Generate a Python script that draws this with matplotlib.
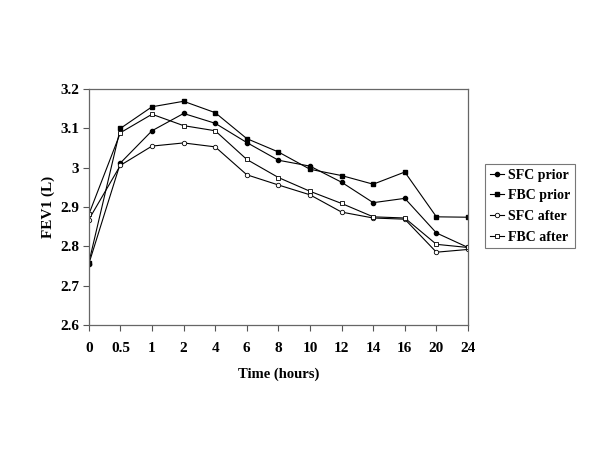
import matplotlib
matplotlib.use("Agg")
import matplotlib.pyplot as plt

plt.rcParams['font.family'] = ['Liberation Serif', 'DejaVu Serif']
plt.rcParams['font.weight'] = 'bold'

times = ['0', '0.5', '1', '2', '4', '6', '8', '10', '12', '14', '16', '20', '24']
sfc_prior = [2.755, 3.012, 3.094, 3.138, 3.113, 3.064, 3.019, 3.004, 2.963, 2.911, 2.922, 2.834, 2.797]
fbc_prior = [2.758, 3.100, 3.155, 3.169, 3.140, 3.074, 3.040, 2.996, 2.980, 2.958, 2.989, 2.875, 2.874]
sfc_after = [2.868, 3.006, 3.055, 3.063, 3.053, 2.982, 2.956, 2.931, 2.887, 2.872, 2.869, 2.785, 2.792]
fbc_after = [2.881, 3.089, 3.136, 3.107, 3.094, 3.021, 2.975, 2.940, 2.909, 2.875, 2.872, 2.805, 2.797]

fig = plt.figure(figsize=(6, 4.5), dpi=100)
ax = fig.add_axes([0.148, 0.278, 0.632, 0.524])

x = range(len(times))
ax.plot(x, sfc_prior, '-o', color='black', lw=0.8, ms=3, mfc='black', label='SFC prior')
ax.plot(x, fbc_prior, '-s', color='black', lw=0.8, ms=3, mfc='black', label='FBC prior')
ax.plot(x, sfc_after, '-o', color='black', lw=0.8, ms=3.2, mfc='white', mew=0.6, label='SFC after')
ax.plot(x, fbc_after, '-s', color='black', lw=0.8, ms=3.4, mfc='white', mew=0.6, label='FBC after')

ax.set_xlim(0, len(times) - 1)
ax.set_ylim(2.6, 3.2)
ax.set_xticks(list(x))
ax.set_xticklabels(times)
ax.set_yticks([2.6, 2.7, 2.8, 2.9, 3.0, 3.1, 3.2])
ax.set_yticklabels(['2.6', '2.7', '2.8', '2.9', '3', '3.1', '3.2'])
ax.tick_params(labelsize=11, length=4, width=0.8, color='#555555', pad=8)
ax.tick_params(axis='y', pad=3)
for s in ax.spines.values():
    s.set_color('#666666')
    s.set_linewidth(0.9)

ax.set_xlabel('Time (hours)', fontsize=10.5, fontweight='bold', labelpad=9)
ax.set_ylabel('FEV1 (L)', fontsize=11, fontweight='bold', labelpad=4)

leg = fig.legend(loc='upper left', bbox_to_anchor=(0.808, 0.636), fontsize=10,
                 frameon=True, fancybox=False, edgecolor='#555555',
                 handlelength=1.0, handletextpad=0.3, borderpad=0.35,
                 labelspacing=0.55, borderaxespad=0)
leg.get_frame().set_linewidth(0.8)

fig.savefig('out.png', dpi=100)
